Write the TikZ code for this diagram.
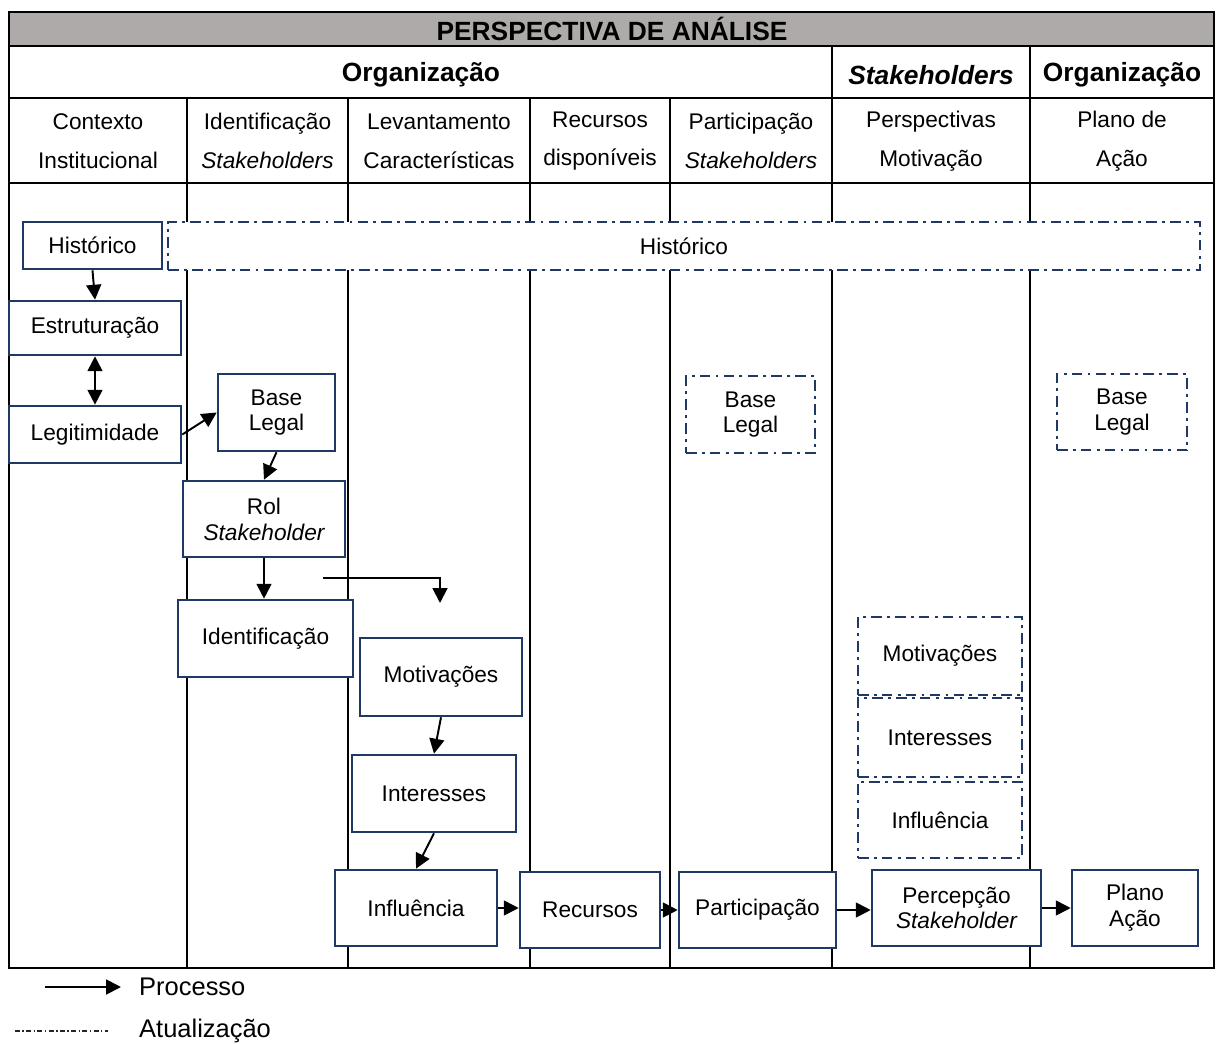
\documentclass[tikz,border=0pt]{standalone}
\usepackage{fontspec}
\setmainfont{Liberation Sans}
\usetikzlibrary{arrows.meta}
\definecolor{navy}{RGB}{31,56,100}
\definecolor{headgray}{RGB}{174,170,170}
\begin{document}
\begin{tikzpicture}[x=0.02cm,y=-0.02cm,
  rule/.style={line width=1.1pt, draw=black},
  box/.style={draw=navy, line width=1.5pt, fill=white, align=center,
    inner sep=0pt, font=\fontsize{12.9}{14.7}\selectfont},
  updbox/.style={box, dash pattern=on 6pt off 3pt on 1.6pt off 3pt},
  proc/.style={line width=1.1pt, draw=black, -{Triangle[length=8.5pt,width=8.5pt]}},
  procboth/.style={line width=1.1pt, draw=black, {Triangle[length=8.5pt,width=8.5pt]}-{Triangle[length=8.5pt,width=8.5pt]}},
  headtext/.style={font=\fontsize{15}{18}\selectfont\bfseries},
  coltext/.style={align=center, font=\fontsize{12.9}{22.1}\selectfont},
  legtext/.style={anchor=west, font=\fontsize{14.5}{17}\selectfont}]

\useasboundingbox (0,0) rectangle (1217,1044);

% table frame
\fill[headgray] (9,12) rectangle (1214,46);
\draw[rule] (9,12) rectangle (1214,968);
\draw[line width=1.6pt] (9,12) -- (1214,12);
\draw[rule] (9,46) -- (1214,46);
\draw[rule] (9,98) -- (1214,98);
\draw[rule] (9,183) -- (1214,183);
\foreach \cx in {832,1030} \draw[rule] (\cx,46) -- (\cx,968);
\foreach \cx in {187,348,530,670} \draw[rule] (\cx,98) -- (\cx,968);

% headings
\node[headtext] (title) at (612,29) {PERSPECTIVA DE ANÁLISE};
\node[headtext] (orgA) at (421,75) {Organização};
\node[headtext] (stk) at (931,75) {\itshape Stakeholders};
\node[headtext] (orgB) at (1122,75) {Organização};

\node[coltext] (c1) at (98,141) {Contexto\\Institucional};
\node[coltext] (c2) at (267.5,141) {Identificação\\\itshape Stakeholders};
\node[coltext] (c3) at (439,141) {Levantamento\\Características};
\node[coltext] (c4) at (600,141) {Recursos\\disponíveis};
\node[coltext] (c5) at (751,141) {Participação\\\itshape Stakeholders};
\node[coltext] (c6) at (931,141) {Perspectivas\\Motivação};
\node[coltext] (c7) at (1122,141) {Plano de\\Ação};

% process boxes
\node[box, minimum width=2.78cm, minimum height=0.94cm] (histA) at (92.5,245.5) {Histórico};
\node[updbox, minimum width=20.64cm, minimum height=0.96cm] (histB) at (684,246) {Histórico};
\node[box, minimum width=3.44cm, minimum height=1.08cm] (estr) at (95,328) {Estruturação};
\node[box, minimum width=3.44cm, minimum height=1.14cm] (legit) at (95,434.5) {Legitimidade};
\node[box, minimum width=2.34cm, minimum height=1.54cm] (baseA) at (276.5,412.5) {Base\\Legal};
\node[box, minimum width=3.24cm, minimum height=1.52cm] (rol) at (264,519) {Rol\\\itshape Stakeholder};
\node[box, minimum width=3.5cm, minimum height=1.54cm] (ident) at (265.5,638.5) {Identificação};
\node[box, minimum width=3.24cm, minimum height=1.56cm] (motiv) at (441,677) {Motivações};
\node[box, minimum width=3.28cm, minimum height=1.54cm] (inter) at (434,793.5) {Interesses};
\node[box, minimum width=3.24cm, minimum height=1.52cm] (influ) at (416,908) {Influência};
\node[box, minimum width=2.8cm, minimum height=1.52cm] (recur) at (590,910) {Recursos};
\node[box, minimum width=3.14cm, minimum height=1.52cm] (partic) at (757.5,910) {Participação};
\node[box, minimum width=3.38cm, minimum height=1.52cm] (percep) at (956.5,908) {Percepção\\\itshape Stakeholder};
\node[box, minimum width=2.52cm, minimum height=1.52cm] (plano) at (1135,908) {Plano\\Ação};

% update boxes
\node[updbox, minimum width=2.58cm, minimum height=1.54cm] (baseB) at (750.5,414.5) {Base\\Legal};
\node[updbox, minimum width=2.6cm, minimum height=1.52cm] (baseC) at (1122,412) {Base\\Legal};
\node[updbox, minimum width=3.28cm, minimum height=1.56cm] (motivD) at (940,656) {Motivações};
\node[updbox, minimum width=3.28cm, minimum height=1.58cm] (interD) at (940,737.5) {Interesses};
\node[updbox, minimum width=3.28cm, minimum height=1.52cm] (influD) at (940,820) {Influência};

% process arrows
\draw[proc] (histA.south) -- (estr.north);
\draw[procboth] (estr.south) -- (legit.north);
\draw[proc] (legit.east) -- (baseA.west);
\draw[proc] (baseA.south) -- (rol.north);
\draw[proc] (rol.south) -- (rol.south |- ident.north);
\coordinate (forkS) at (323,578);
\coordinate (forkE) at (440,603);
\draw[proc] (forkS) -| (forkE);
\draw[proc] (motiv.south) -- (inter.north);
\draw[proc] (inter.south) -- (influ.north);
\draw[proc] (influ.east) -- (influ.east -| recur.west);
\draw[proc] (recur.east) -- (recur.east -| partic.west);
\draw[proc] (partic.east) -- (partic.east -| percep.west);
\draw[proc] (percep.east) -- (percep.east -| plano.west);

% legend
\coordinate (legA1) at (45,987);
\coordinate (legA2) at (121,987);
\draw[proc] (legA1) -- (legA2);
\node[legtext] (legP) at (133,987) {Processo};
\coordinate (legB1) at (15,1031);
\coordinate (legB2) at (108,1031);
\draw[line width=0.7pt, draw=black!85, dash pattern=on 2.8pt off 1.4pt on 0.8pt off 1.4pt] (legB1) -- (legB2);
\node[legtext] (legU) at (133,1031) {Atualização};
\end{tikzpicture}
\end{document}
